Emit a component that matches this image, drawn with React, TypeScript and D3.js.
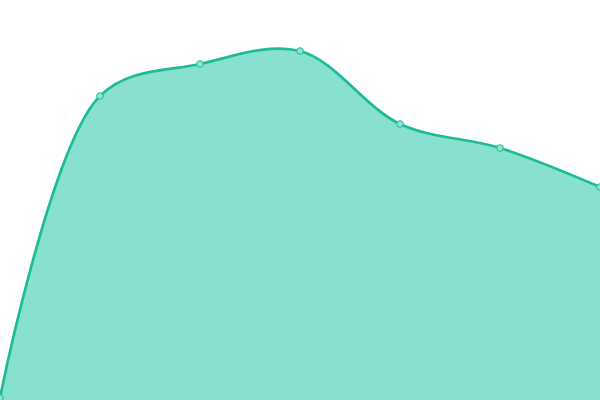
import React from "react";
import * as d3 from "d3";

const categories = ["A", "B", "C", "D", "E", "F", "G"];
const values = [2, 304, 336, 349, 276, 252, 213];

const W = 600;
const H = 400;

export default function App() {
  const x = d3.scalePoint<string>().domain(categories).range([0, W]);
  const y = d3.scaleLinear().domain([0, 400]).range([H, 0]);
  const pts: [number, number][] = categories.map((c, i) => [x(c) as number, y(values[i])]);
  const curve = d3.curveCatmullRom.alpha(0.5);
  const area = d3
    .area<[number, number]>()
    .x((d) => d[0])
    .y0(H)
    .y1((d) => d[1])
    .curve(curve);
  const line = d3
    .line<[number, number]>()
    .x((d) => d[0])
    .y((d) => d[1])
    .curve(curve);
  return (
    <svg
      width={W}
      height={H}
      style={{ position: "fixed", left: 0, top: 0, display: "block" }}
    >
      <path d={area(pts) || ""} fill="#88e0cf" />
      <path d={line(pts) || ""} fill="none" stroke="#1dbb98" strokeWidth={2.7} />
      {pts.map((p, i) => (
        <circle key={i} cx={p[0]} cy={p[1]} r={3.3} fill="#8ee3d2" stroke="#1dbb98" strokeWidth={1} />
      ))}
    </svg>
  );
}
